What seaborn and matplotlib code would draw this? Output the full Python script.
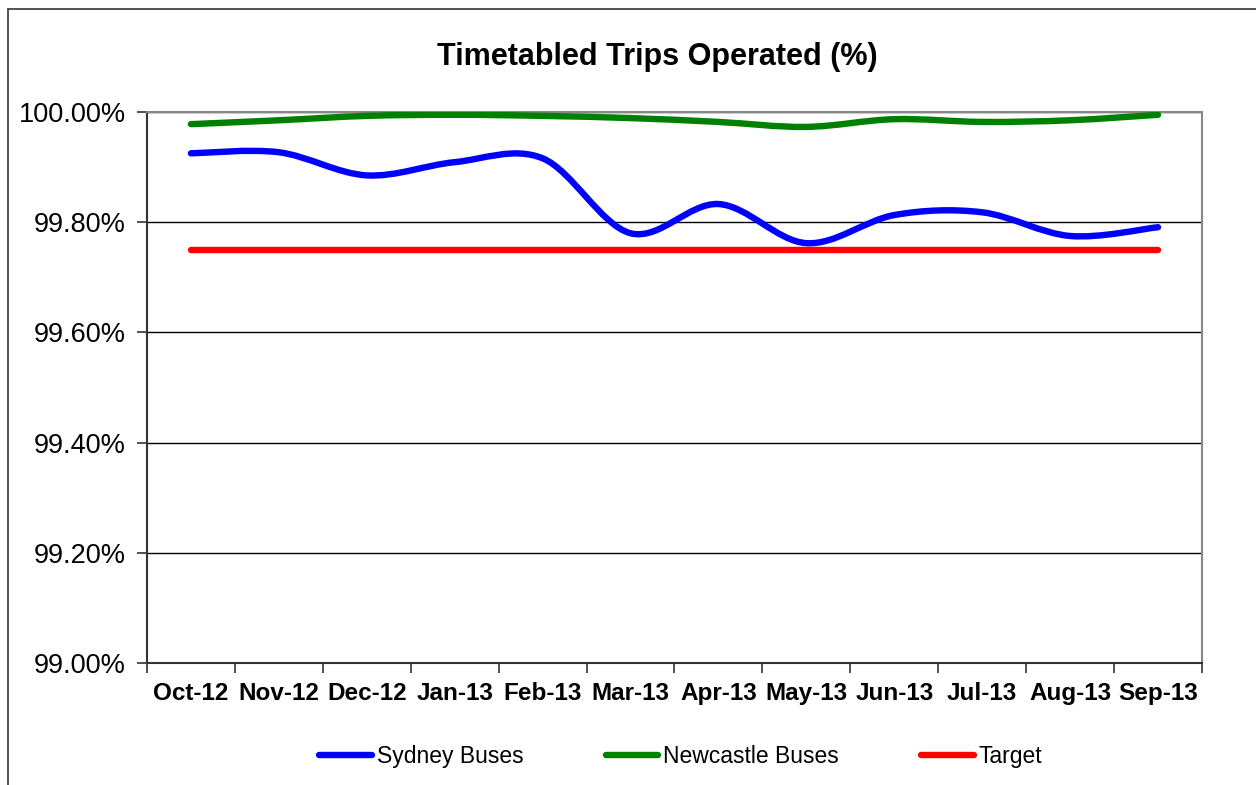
import matplotlib
matplotlib.use('Agg')
import matplotlib.pyplot as plt
import numpy as np
import pandas as pd
import seaborn as sns
from matplotlib.path import Path
from matplotlib.patches import PathPatch, Rectangle
from matplotlib.lines import Line2D
from matplotlib.ticker import FuncFormatter, FixedLocator

# Data
months = ['Oct-12', 'Nov-12', 'Dec-12', 'Jan-13', 'Feb-13', 'Mar-13',
          'Apr-13', 'May-13', 'Jun-13', 'Jul-13', 'Aug-13', 'Sep-13']
sydney = [99.925, 99.927, 99.885, 99.909, 99.916, 99.780,
          99.833, 99.762, 99.813, 99.818, 99.775, 99.791]
newcastle = [99.978, 99.985, 99.993, 99.995, 99.993, 99.989,
             99.982, 99.973, 99.987, 99.982, 99.985, 99.995]
target = [99.75] * 12

df = pd.DataFrame({'month': months, 'Sydney Buses': sydney,
                   'Newcastle Buses': newcastle, 'Target': target})
df['pos'] = range(len(months))


def smooth_path(x, y):
    # Excel-style smoothed line drawn as cubic Bezier segments
    x = np.asarray(x, float)
    y = np.asarray(y, float)
    n = len(x)
    verts = [(x[0], y[0])]
    codes = [Path.MOVETO]
    for i in range(n - 1):
        i0 = max(i - 1, 0)
        i3 = min(i + 2, n - 1)
        c1 = (x[i] + (x[i + 1] - x[i0]) / 6, y[i] + (y[i + 1] - y[i0]) / 6)
        c2 = (x[i + 1] - (x[i3] - x[i]) / 6, y[i + 1] - (y[i3] - y[i]) / 6)
        verts += [c1, c2, (x[i + 1], y[i + 1])]
        codes += [Path.CURVE4] * 3
    return Path(verts, codes)


sns.set_style('white')
plt.rcParams['font.family'] = ['Liberation Sans', 'DejaVu Sans']
plt.rcParams['text.color'] = 'black'
plt.rcParams['xtick.color'] = 'black'
plt.rcParams['ytick.color'] = 'black'

fig = plt.figure(figsize=(12.56, 7.85), dpi=100)
ax = fig.add_axes([0.117, 0.1554, 0.840, 0.7019])

# outer chart border
fig.patches.append(Rectangle((0.0065, -0.01), 1.2, 1.0 - 0.0115 + 0.01,
                             transform=fig.transFigure, fill=False,
                             edgecolor='#333333', linewidth=1.2))

lw = 4.6
sns.lineplot(data=df, x='pos', y='Target', ax=ax, color='#ff0000',
             linewidth=lw, solid_capstyle='round', legend=False)
for col, colour in [('Sydney Buses', '#0000ff'), ('Newcastle Buses', '#008000')]:
    ax.add_patch(PathPatch(smooth_path(df['pos'], df[col]), fill=False,
                           edgecolor=colour, linewidth=lw, capstyle='round',
                           joinstyle='round', zorder=3))

ax.set_xlim(-0.5, len(months) - 0.5)
ax.set_ylim(99.0, 100.0)
ax.set_xlabel('')
ax.set_ylabel('')

ax.yaxis.set_major_locator(FixedLocator([99.0, 99.2, 99.4, 99.6, 99.8, 100.0]))
ax.yaxis.set_major_formatter(FuncFormatter(lambda v, p: f'{v:.2f}%'))
ax.yaxis.grid(True, color='black', linewidth=1)
ax.set_axisbelow(True)

ax.set_xticks(np.arange(len(months)))
ax.set_xticklabels(months, fontsize=17.5, fontweight='bold')
ax.set_xticks(np.arange(-0.5, len(months), 1), minor=True)
ax.tick_params(axis='x', which='major', length=0, pad=14)
ax.tick_params(axis='x', which='minor', length=7, width=1.2, color='#333333',
               direction='out', bottom=True)
ax.tick_params(axis='y', length=7, width=1.2, color='#333333', direction='out',
               left=True, labelsize=19.5, pad=8)

for side in ['left', 'bottom']:
    ax.spines[side].set_color('#333333')
    ax.spines[side].set_linewidth(1.5)
for side in ['top', 'right']:
    ax.spines[side].set_color('#888888')
    ax.spines[side].set_linewidth(1.5)

fig.text(0.523, 0.927, 'Timetabled Trips Operated (%)', ha='center',
         va='center', fontsize=22, fontweight='bold')

handles = [Line2D([], [], color='#0000ff', linewidth=lw, solid_capstyle='round'),
           Line2D([], [], color='#008000', linewidth=lw, solid_capstyle='round'),
           Line2D([], [], color='#ff0000', linewidth=lw, solid_capstyle='round')]
fig.legend(handles, ['Sydney Buses', 'Newcastle Buses', 'Target'],
           loc='center', bbox_to_anchor=(0.542, 0.036), ncol=3, frameon=False,
           fontsize=16.5, handlelength=2.3, handletextpad=0.2, columnspacing=3.6)

fig.savefig('out.png', dpi=100)
